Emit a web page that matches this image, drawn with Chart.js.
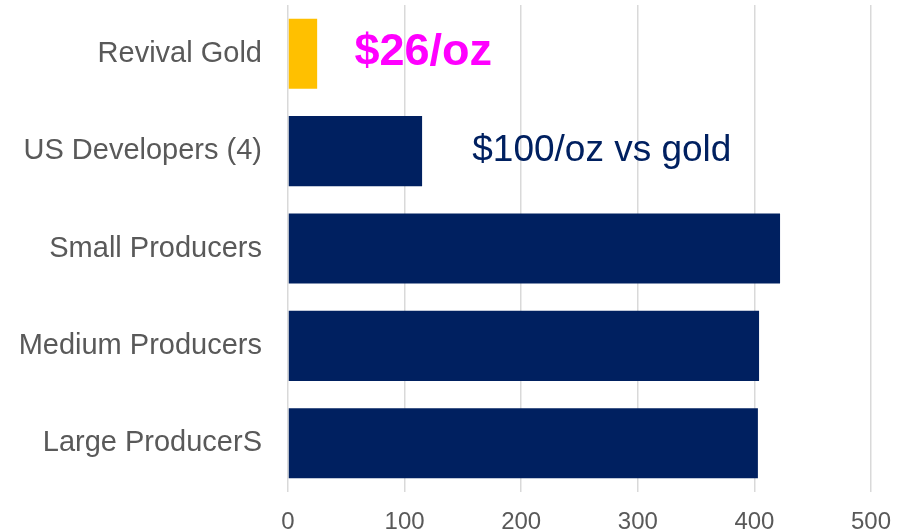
<!DOCTYPE html>
<html>
<head>
<meta charset="utf-8">
<script src="https://cdn.jsdelivr.net/npm/chart.js@4/dist/chart.umd.min.js"></script>
<style>
  html, body { margin: 0; padding: 0; background: #fff; }
  #wrap { width: 904px; height: 532px; }
</style>
</head>
<body>
<div id="wrap"><canvas id="costChart" width="904" height="532"></canvas></div>
<script>
const categories = ['Revival Gold', 'US Developers (4)', 'Small Producers', 'Medium Producers', 'Large ProducerS'];
const costValues = [25, 115, 422, 404, 403];
const barColors = ['#FFC000', '#002060', '#002060', '#002060', '#002060'];
const xTicks = [0, 100, 200, 300, 400, 500];

// callout text, anchored at a value on the x scale next to a category
const callouts = [
  { text: '$26/oz', category: 0, at: 57, color: '#FF00FF', font: 'bold 45px "Liberation Sans", Arial, sans-serif', dy: 11 },
  { text: '$100/oz vs gold', category: 1, at: 158, color: '#002060', font: '37px "Liberation Sans", Arial, sans-serif', dy: 10 }
];

const calloutPlugin = {
  id: 'callouts',
  afterDatasetsDraw: function (chart) {
    var ctx = chart.ctx;
    var xs = chart.scales.x;
    var ys = chart.scales.y;
    ctx.save();
    for (var n = 0; n < callouts.length; n++) {
      var c = callouts[n];
      ctx.font = c.font;
      ctx.fillStyle = c.color;
      ctx.textAlign = 'left';
      ctx.textBaseline = 'alphabetic';
      ctx.fillText(c.text, xs.getPixelForValue(c.at), ys.getPixelForValue(c.category) + c.dy);
    }
    ctx.restore();
  }
};

const config = {
  type: 'bar',
  data: {
    labels: categories,
    datasets: [{
      data: costValues,
      backgroundColor: barColors,
      barPercentage: 0.72,
      categoryPercentage: 1
    }]
  },
  options: {
    indexAxis: 'y',
    responsive: false,
    animation: false,
    layout: { padding: { top: 5, right: 33, left: 0, bottom: 0 } },
    plugins: {
      legend: { display: false },
      tooltip: { enabled: false }
    },
    scales: {
      x: {
        min: 0,
        max: 500,
        afterBuildTicks: function (scale) {
          scale.ticks = xTicks.map(function (v) { return { value: v }; });
        },
        afterFit: function (scale) {
          scale.height = 40;
          scale.paddingLeft = 0;
          scale.paddingRight = 0;
        },
        border: { display: false },
        grid: { color: '#D9D9D9', lineWidth: 1.5, drawTicks: false },
        ticks: {
          padding: 16,
          color: '#595959',
          font: { family: '"Liberation Sans", Arial, sans-serif', size: 24 }
        }
      },
      y: {
        afterFit: function (scale) {
          scale.width = 288;
          scale.paddingTop = 0;
          scale.paddingBottom = 0;
        },
        border: { display: false },
        grid: { display: false, drawTicks: false },
        ticks: {
          padding: 26,
          color: '#595959',
          font: { family: '"Liberation Sans", Arial, sans-serif', size: 29 }
        }
      }
    }
  },
  plugins: [calloutPlugin]
};

new Chart(document.getElementById('costChart').getContext('2d'), config);
</script>
</body>
</html>
